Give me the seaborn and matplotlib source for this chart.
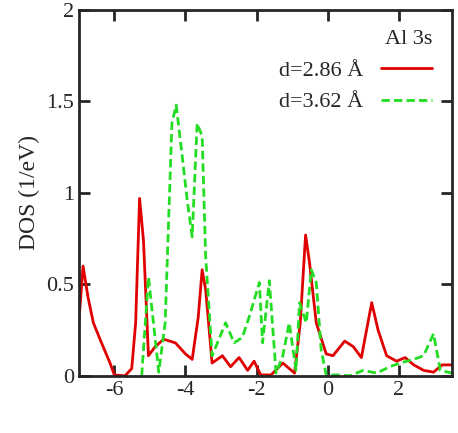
import pandas as pd
import numpy as np
import seaborn as sns
import matplotlib.pyplot as plt

# DOS curves (energy in eV, DOS in 1/eV)
red_x = [-7.0, -6.88, -6.74, -6.59, -6.36, -6.12, -6.0, -5.7, -5.51, -5.4, -5.29, -5.18, -5.04,
         -4.85, -4.61, -4.28, -4.0, -3.81, -3.64, -3.53, -3.43, -3.25, -2.96, -2.73, -2.49,
         -2.25, -2.07, -1.88, -1.59, -1.26, -0.93, -0.77, -0.62, -0.51, -0.32, -0.04, 0.15,
         0.48, 0.72, 0.95, 1.24, 1.42, 1.66, 1.94, 2.18, 2.42, 2.70, 2.98, 3.22, 3.5]
red_y = [0.29, 0.60, 0.43, 0.29, 0.18, 0.07, 0.005, 0.0, 0.04, 0.29, 0.97, 0.74, 0.11,
         0.16, 0.20, 0.18, 0.12, 0.09, 0.32, 0.58, 0.47, 0.07, 0.11, 0.05, 0.10,
         0.03, 0.08, 0.005, 0.005, 0.07, 0.015, 0.29, 0.77, 0.62, 0.29, 0.12, 0.11,
         0.19, 0.16, 0.10, 0.40, 0.25, 0.11, 0.08, 0.10, 0.06, 0.03, 0.02, 0.06, 0.06]

green_x = [-5.23, -5.04, -4.9, -4.75, -4.57, -4.38, -4.26, -4.09, -3.95, -3.81, -3.67, -3.53,
           -3.43, -3.25, -3.1, -2.87, -2.63, -2.4, -2.21, -1.92, -1.83, -1.64, -1.45, -1.26,
           -1.08, -0.89, -0.79, -0.6, -0.46, -0.32, -0.18, -0.04, 0.34, 0.62, 1.0, 1.38,
           1.75, 2.04, 2.42, 2.70, 2.98, 3.17, 3.5]
green_y = [0.0, 0.54, 0.29, 0.02, 0.29, 1.38, 1.48, 1.20, 0.96, 0.76, 1.38, 1.31,
           0.65, 0.11, 0.18, 0.29, 0.18, 0.21, 0.32, 0.51, 0.18, 0.52, 0.015, 0.11,
           0.29, 0.03, 0.40, 0.29, 0.58, 0.51, 0.14, 0.005, 0.005, 0.0, 0.03, 0.015,
           0.05, 0.07, 0.09, 0.11, 0.23, 0.03, 0.015]

labels = ["d=2.86 Å", "d=3.62 Å"]

sns.set_style("ticks")
plt.rcParams['font.family'] = ['Liberation Serif', 'DejaVu Serif']
plt.rcParams['font.size'] = 17
plt.rcParams['axes.unicode_minus'] = False

fig = plt.figure(figsize=(4.58, 4.33), dpi=100)
ax = fig.add_axes([0.172, 0.132, 0.815, 0.845])

sns.lineplot(x=red_x, y=red_y, ax=ax, color="#e00000", lw=2, label=labels[0])
sns.lineplot(x=green_x, y=green_y, ax=ax, color="#22dd22", lw=2, ls=(0, (3, 1.5)), label=labels[1])

ax.set_xlim(-7, 3.5)
ax.set_ylim(0, 2)
ax.set_xticks([-6, -4, -2, 0, 2])
ax.set_yticks([0, 0.5, 1, 1.5, 2])
ax.set_yticklabels(["0", "0.5", "1", "1.5", "2"])
ax.set_ylabel("DOS (1/eV)")
ax.tick_params(direction="in", top=True, right=True, length=8, width=2, labelsize=16)
for s in ax.spines.values():
    s.set_linewidth(2)

leg = ax.legend(title="Al 3s", loc="upper right", frameon=False, fontsize=16,
                title_fontsize=16, markerfirst=False, handlelength=2.3)
leg._legend_box.align = "right"

fig.savefig("out.png", dpi=100)
